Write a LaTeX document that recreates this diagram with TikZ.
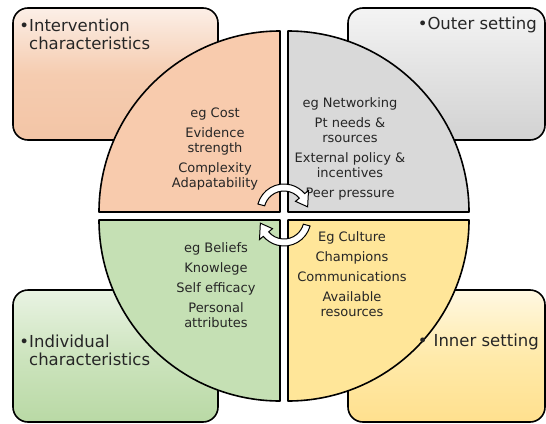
\documentclass[tikz,border=0pt]{standalone}
\usepackage{fontspec}
\setmainfont{DejaVu Sans}
\usepackage{tikz}
\usetikzlibrary{positioning}
% quarter fills
\definecolor{peach}{HTML}{F8CBAD}
\definecolor{greyq}{HTML}{D9D9D9}
\definecolor{greenq}{HTML}{C5E0B4}
\definecolor{yellowq}{HTML}{FFE699}
% box shadings
\definecolor{peachtop}{HTML}{FCEFE7}
\definecolor{peachmid}{HTML}{F5CCB0}
\definecolor{peachlow}{HTML}{F3C5A6}
\definecolor{greytop}{HTML}{F4F4F4}
\definecolor{greymid}{HTML}{E2E2E2}
\definecolor{greylow}{HTML}{D2D2D2}
\definecolor{greentop}{HTML}{E9F3E3}
\definecolor{greenmid}{HTML}{CDE4BE}
\definecolor{greenlow}{HTML}{B9D9A5}
\definecolor{yellowtop}{HTML}{FFF8E2}
\definecolor{yellowmid}{HTML}{FFEAAA}
\definecolor{yellowlow}{HTML}{FFE08E}
\tikzset{quad/.style={draw=black,line width=1.6pt},
  setbox/.style={draw=black,line width=1.6pt,rounded corners=15pt},
  bigtxt/.style={inner sep=0pt,align=left,text=black!85,font=\fontsize{16.5}{18}\selectfont},
  items/.style={inner sep=0pt,align=center,text=black!85,font=\fontsize{13}{15}\selectfont},
  turnarr/.style={draw=black,line width=1pt,fill=white,line join=miter}}

\begin{document}
\begin{tikzpicture}[x=1pt,y=1pt,line join=round]
\useasboundingbox (0,0) rectangle (546,-423);
% --- corner boxes
\draw[setbox,top color=peachtop,bottom color=peachlow,middle color=peachmid] (13,-8) rectangle (218,-140);
\draw[setbox,top color=greytop,bottom color=greylow,middle color=greymid] (348,-8) rectangle (545,-140);
\draw[setbox,top color=greentop,bottom color=greenlow,middle color=greenmid] (13,-290) rectangle (218,-422);
\draw[setbox,top color=yellowtop,bottom color=yellowlow,middle color=yellowmid] (348,-290) rectangle (545,-422);
% --- four quarters of the disc
\draw[quad,fill=peach] (280,-212) -- (99,-212) arc[start angle=180,end angle=90,radius=181] -- cycle;
\draw[quad,fill=greyq] (288,-212) -- (288,-31) arc[start angle=90,end angle=0,radius=181] -- cycle;
\draw[quad,fill=greenq] (280,-220) -- (280,-401) arc[start angle=270,end angle=180,radius=181] -- cycle;
\draw[quad,fill=yellowq] (288,-220) -- (469,-220) arc[start angle=0,end angle=-90,radius=181] -- cycle;
% --- labels
\node[bigtxt,anchor=west] (iclab) at (29,-34) {\llap{\textbullet}Intervention\\characteristics};
\node[bigtxt,anchor=east] (oslab) at (537,-25) {\textbullet Outer setting};
\node[bigtxt,anchor=west] (indlab) at (29,-350) {\llap{\textbullet}Individual\\characteristics};
\node[bigtxt,anchor=east] (islab) at (539,-342) {\textbullet\hspace{6pt}Inner setting};
\node[items] (icitems) at (215,-149) {eg Cost\\[5pt]Evidence\\strength\\[5pt]Complexity\\Adapatability};
\node[items] (ositems) at (350,-149) {eg Networking\\[5pt]Pt needs \&\\rsources\\[5pt]External policy \&\\incentives\\[5pt]Peer pressure};
\node[items] (inditems) at (216,-285) {eg Beliefs\\[5pt]Knowlege\\[5pt]Self efficacy\\[5pt]Personal\\attributes};
\node[items] (isitems) at (352,-274) {Eg Culture\\[5pt]Champions\\[5pt]Communications\\[5pt]Available\\resources};
% --- turning arrows in the middle
\begin{scope}[shift={(284,-211)}]
\draw[turnarr] (165:27) arc[start angle=165,end angle=40,radius=27] -- (40:32) -- (10:24) -- (40:15) -- (40:20) arc[start angle=40,end angle=165,radius=20] -- cycle;
\end{scope}
\begin{scope}[shift={(284,-219)},rotate=180]
\draw[turnarr] (165:27) arc[start angle=165,end angle=40,radius=27] -- (40:32) -- (10:24) -- (40:15) -- (40:20) arc[start angle=40,end angle=165,radius=20] -- cycle;
\end{scope}
\end{tikzpicture}
\end{document}
